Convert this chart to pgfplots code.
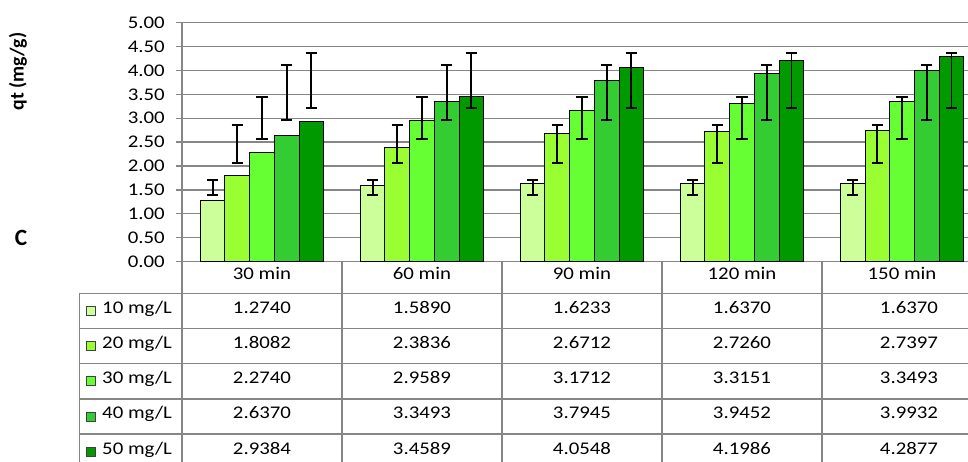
\documentclass[border=0pt]{standalone}
\usepackage{fontspec}
\setmainfont{Carlito}[FakeStretch=1.17]
\newfontfamily\plainfont{Carlito}
\usepackage{pgfplots}
\usepackage{pgfplotstable}
\pgfplotsset{compat=1.18}

\definecolor{c10}{RGB}{204,255,153}
\definecolor{c20}{RGB}{153,255,51}
\definecolor{c30}{RGB}{102,255,51}
\definecolor{c40}{RGB}{51,204,51}
\definecolor{c50}{RGB}{0,153,0}
\definecolor{gridgray}{RGB}{134,134,134}

% qt (mg/g) per contact time (rows) and initial concentration (columns)
\pgfplotstableread{
x t   s10    s20    s30    s40    s50
0 30  1.2740 1.8082 2.2740 2.6370 2.9384
1 60  1.5890 2.3836 2.9589 3.3493 3.4589
2 90  1.6233 2.6712 3.1712 3.7945 4.0548
3 120 1.6370 2.7260 3.3151 3.9452 4.1986
4 150 1.6370 2.7397 3.3493 3.9932 4.2877
}\qtdata

\newcommand\tabfont{\fontsize{17.8}{20}\selectfont}

\begin{document}
\begin{tikzpicture}[x=1pt,y=1pt]
\begin{axis}[
    scale only axis, width=800pt, height=238.8pt,
    xmin=-0.5, xmax=4.5, ymin=0, ymax=5,
    xtick=\empty,
    ytick={0,0.5,1,1.5,2,2.5,3,3.5,4,4.5,5},
    axis y line*=left, axis x line*=bottom,
    axis line style={-, gridgray, line width=1.3pt},
    ymajorgrids, grid style={gridgray, line width=1.3pt},
    tick align=outside, major tick length=6pt,
    tick style={gridgray, line width=1.3pt},
    yticklabel style={font=\tabfont, anchor=east, inner sep=0pt, xshift=-11pt,
        /pgf/number format/.cd, fixed, fixed zerofill, precision=2,
        assume math mode=true},
    bar width=0.1542,
    every axis plot/.append style={line width=1pt},
]
\addplot[ybar, bar shift=-0.3084, fill=c10, draw=black] table[x=x, y=s10]{\qtdata};
\addplot[ybar, bar shift=-0.1542, fill=c20, draw=black] table[x=x, y=s20]{\qtdata};
\addplot[ybar, bar shift=0,       fill=c30, draw=black] table[x=x, y=s30]{\qtdata};
\addplot[ybar, bar shift=0.1542,  fill=c40, draw=black] table[x=x, y=s40]{\qtdata};
\addplot[ybar, bar shift=0.3084,  fill=c50, draw=black] table[x=x, y=s50]{\qtdata};

% error bars sit at the same heights in every group
\pgfplotsset{errstyle/.style={draw=none, mark=none, forget plot,
    error bars/.cd, y dir=both, y explicit,
    error bar style={draw=black, solid, line width=1.7pt},
    error mark options={draw=black, rotate=90, mark size=5.8pt, line width=1.8pt}}}
\addplot[errstyle] coordinates {(-0.3084,1.546)+-(0,0.158) (0.6916,1.546)+-(0,0.158)
    (1.6916,1.546)+-(0,0.158) (2.6916,1.546)+-(0,0.158) (3.6916,1.546)+-(0,0.158)};
\addplot[errstyle] coordinates {(-0.1542,2.454)+-(0,0.398) (0.8458,2.454)+-(0,0.398)
    (1.8458,2.454)+-(0,0.398) (2.8458,2.454)+-(0,0.398) (3.8458,2.454)+-(0,0.398)};
\addplot[errstyle] coordinates {(0,3.007)+-(0,0.444) (1,3.007)+-(0,0.444)
    (2,3.007)+-(0,0.444) (3,3.007)+-(0,0.444) (4,3.007)+-(0,0.444)};
\addplot[errstyle] coordinates {(0.1542,3.542)+-(0,0.578) (1.1542,3.542)+-(0,0.578)
    (2.1542,3.542)+-(0,0.578) (3.1542,3.542)+-(0,0.578) (4.1542,3.542)+-(0,0.578)};
\addplot[errstyle] coordinates {(0.3084,3.789)+-(0,0.578) (1.3084,3.789)+-(0,0.578)
    (2.3084,3.789)+-(0,0.578) (3.3084,3.789)+-(0,0.578) (4.3084,3.789)+-(0,0.578)};
\end{axis}

% the rest is laid out in reference pixels, origin moved to the axis corner
\begin{scope}[shift={(-182,-200.5)}]
\foreach \k in {0,...,5}
    \draw[gridgray, line width=1.3pt] (79.3,168.7-35.2*\k) -- (990,168.7-35.2*\k);
\draw[gridgray, line width=1.3pt] (79.3,168.7) -- (79.3,-10);
\foreach \i in {0,...,5}
    \draw[gridgray, line width=1.3pt] (182+160*\i,200.5) -- (182+160*\i,-10);

\foreach \i in {0,...,4} {
    \pgfplotstablegetelem{\i}{t}\of\qtdata
    \node[font=\tabfont, anchor=mid] at (262+160*\i,184.5) {\pgfplotsretval{} min};
    \foreach \c [count=\k from 0] in {s10,s20,s30,s40,s50} {
        \pgfplotstablegetelem{\i}{\c}\of\qtdata
        \pgfmathsetmacro\xx{262+160*\i+(\i==4?7:0)}
        \node[font=\tabfont, anchor=mid] at (\xx,151.1-35.2*\k) {\pgfplotsretval};
    }
}
\foreach \lab/\col [count=\k from 0] in {10/c10,20/c20,30/c30,40/c40,50/c50} {
    \draw[fill=\col, draw=black!75, line width=0.8pt]
        (86.7,146.6-35.2*\k) rectangle (95.7,155.6-35.2*\k);
    \node[font=\tabfont, anchor=mid west, inner sep=0pt] at (102,151.1-35.2*\k) {\lab{} mg/L};
}

\node[rotate=90, font=\plainfont\fontsize{19.8}{22}\selectfont\bfseries] at (18,390.5) {qt (mg/g)};
\node[font=\plainfont\fontsize{23.3}{26}\selectfont\bfseries] at (21,224.5) {C};

\pgfresetboundingbox
\path[use as bounding box] (0,0) rectangle (968,462);
\end{scope}
\end{tikzpicture}
\end{document}
